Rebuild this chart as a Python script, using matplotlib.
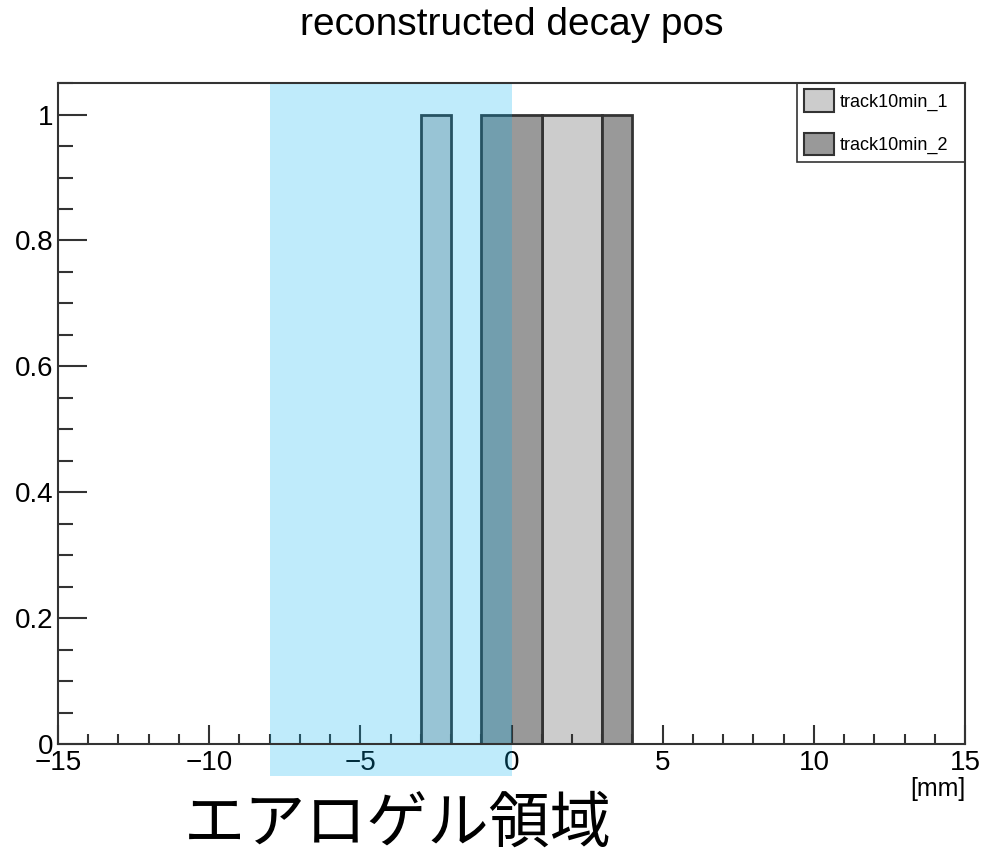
import matplotlib
matplotlib.use('Agg')
import matplotlib.pyplot as plt
import numpy as np
from matplotlib.patches import Rectangle
from matplotlib.ticker import MultipleLocator

plt.rcParams['font.family'] = ['Liberation Sans', 'DejaVu Sans']

# histogram contents, 1 mm bins
bin_edges = np.arange(-15, 16, 1)
track1_bins = [-3, 1, 2]    # lower edges of filled bins
track2_bins = [-1, 0, 3]
track1 = np.zeros(len(bin_edges) - 1)
track2 = np.zeros(len(bin_edges) - 1)
for b in track1_bins:
    track1[b + 15] = 1
for b in track2_bins:
    track2[b + 15] = 1

labels = ['track10min_1', 'track10min_2']
aerogel = (-8, 0)

fig = plt.figure(figsize=(9.86, 8.55), dpi=100)
ax = fig.add_axes([0.0588, 0.1298, 0.92, 0.773])

for vals, fc, lab in [(track1, '#cccccc', labels[0]), (track2, '#999999', labels[1])]:
    ax.stairs(vals, bin_edges, fill=True, facecolor=fc, edgecolor='none', label=lab)
    ax.stairs(vals, bin_edges, fill=False, edgecolor='#333333', lw=2.0)

# aerogel region overlay
trans = ax.get_xaxis_transform()
ax.add_patch(Rectangle((aerogel[0], -0.048), aerogel[1] - aerogel[0], 1.048,
                       transform=trans, facecolor=(0, 176 / 255, 240 / 255), alpha=0.25,
                       edgecolor='none', clip_on=False, zorder=5))

ax.set_xlim(-15, 15)
ax.set_ylim(0, 1.05)
ax.xaxis.set_major_locator(MultipleLocator(5))
ax.xaxis.set_minor_locator(MultipleLocator(1))
ax.yaxis.set_major_locator(MultipleLocator(0.2))
ax.yaxis.set_minor_locator(MultipleLocator(0.05))
ax.yaxis.set_major_formatter(plt.FuncFormatter(lambda v, p: f'{v:g}'))
ax.xaxis.set_major_formatter(plt.FuncFormatter(lambda v, p: f'{v:g}'.replace('-', '\u2212')))
ax.tick_params(axis='x', which='major', direction='in', length=14, width=1.5, color='#333333',
               labelsize=20, pad=4)
ax.tick_params(axis='x', which='minor', direction='in', length=7, width=1.5, color='#333333')
ax.tick_params(axis='y', which='major', direction='in', length=21, width=1.5, color='#333333',
               labelsize=20, pad=3)
ax.tick_params(axis='y', which='minor', direction='in', length=11, width=1.5, color='#333333')
for s in ax.spines.values():
    s.set_linewidth(1.5)
    s.set_color('#333333')
    s.set_zorder(10)

fig.text((58 + 965) / 2 / 986, 1 - 25 / 855, 'reconstructed decay pos', ha='center', va='center',
         fontsize=28)
ax.text(1.0, -0.05, '[mm]', transform=ax.transAxes, ha='right', va='top', fontsize=18)

leg = ax.legend(loc='upper left', bbox_to_anchor=(0.815, 0.0, 0.185, 1.0), mode='expand',
                fontsize=13, frameon=True, fancybox=False, edgecolor='black', borderaxespad=0,
                handlelength=1.67, handleheight=1.55, labelspacing=1.15, borderpad=0.35,
                handletextpad=0.33)
leg.get_frame().set_linewidth(1.2)
for h in leg.legend_handles:
    h.set_edgecolor('#333333')
    h.set_linewidth(1.5)

fig.text(398 / 986, 1 - 824 / 855, 'エアロゲル領域', ha='center', va='center', fontsize=44,
         family=['Noto Sans CJK JP', 'DejaVu Sans'])

fig.savefig('out.png', dpi=100)
